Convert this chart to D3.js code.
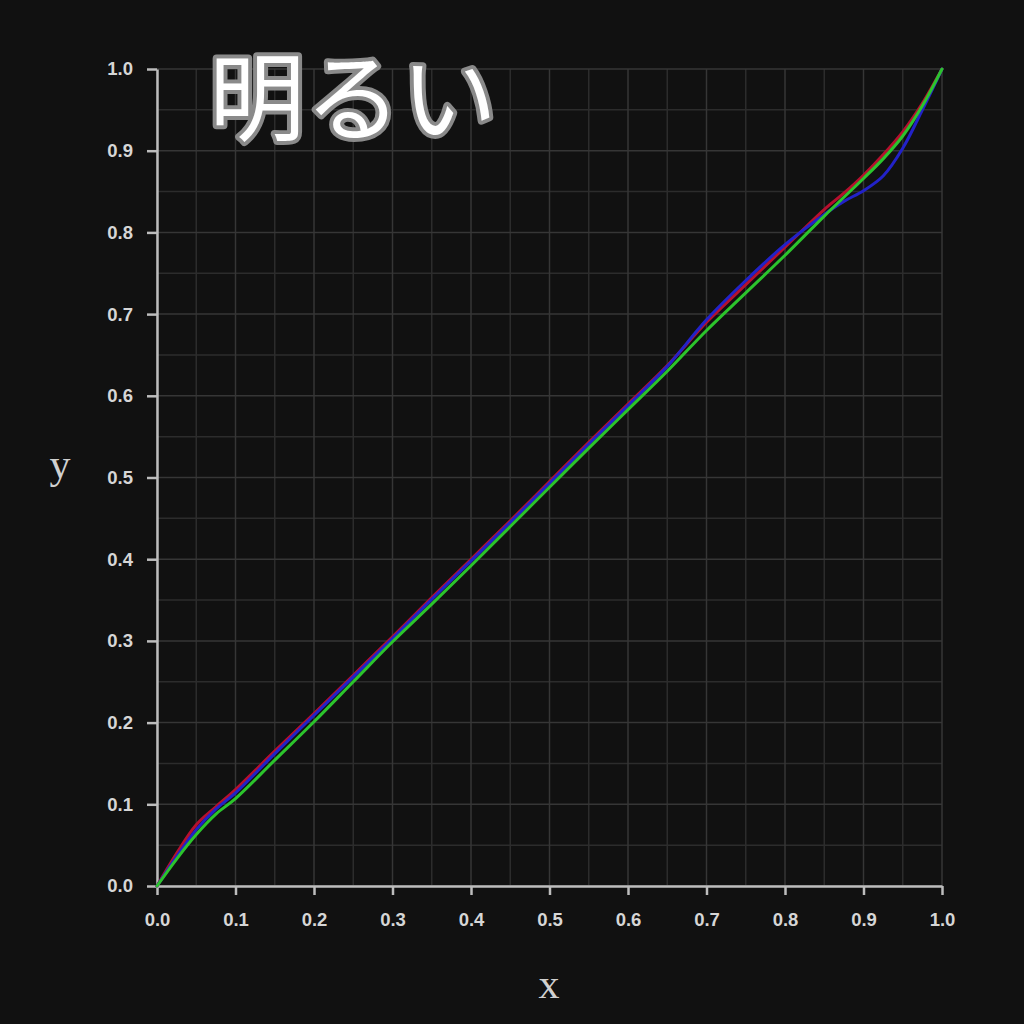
<!DOCTYPE html>
<html><head><meta charset="utf-8">
<script src="https://cdn.jsdelivr.net/npm/d3@7"></script>
<style>html,body{margin:0;padding:0;background:#111111;}svg{display:block;}</style>
</head><body>
<svg id="chart" width="1024" height="1024"></svg>
<script>
const titleText = "明るい";
const xLabel = "x";
const yLabel = "y";
const tickValues = [0,0.1,0.2,0.3,0.4,0.5,0.6,0.7,0.8,0.9,1.0];
const minorValues = [0.05,0.15,0.25,0.35,0.45,0.55,0.65,0.75,0.85,0.95];
const xs = [0,0.025,0.05,0.075,0.1,0.15,0.2,0.25,0.3,0.35,0.4,0.45,0.5,0.55,0.6,0.65,0.7,0.75,0.8,0.85,0.875,0.9,0.925,0.95,0.975,1.0];
const redY = [0,0.040,0.075,0.097,0.118,0.165,0.211,0.258,0.305,0.353,0.400,0.447,0.495,0.543,0.590,0.637,0.690,0.736,0.782,0.828,0.848,0.870,0.895,0.923,0.958,1.0];
const greenY = [0,0.033,0.063,0.088,0.107,0.154,0.201,0.250,0.299,0.345,0.392,0.440,0.488,0.536,0.583,0.630,0.680,0.726,0.772,0.820,0.843,0.866,0.890,0.918,0.955,1.0];
const blueY = [0,0.036,0.069,0.094,0.114,0.162,0.209,0.256,0.303,0.351,0.398,0.445,0.493,0.541,0.588,0.636,0.693,0.741,0.785,0.822,0.838,0.851,0.869,0.903,0.950,1.0];

const svg = d3.select("#chart");
svg.append("rect").attr("width",1024).attr("height",1024).attr("fill","#111111");
const x = d3.scaleLinear().domain([0,1]).range([157,942]);
const y = d3.scaleLinear().domain([0,1]).range([886,69]);

const grid = svg.append("g");
grid.selectAll(".mnx").data(minorValues).join("line")
  .attr("x1",d=>x(d)).attr("x2",d=>x(d)).attr("y1",y(0)).attr("y2",y(1))
  .attr("stroke","#2c2c2c").attr("stroke-width",1.5);
grid.selectAll(".mny").data(minorValues).join("line")
  .attr("y1",d=>y(d)).attr("y2",d=>y(d)).attr("x1",x(0)).attr("x2",x(1))
  .attr("stroke","#2c2c2c").attr("stroke-width",1.5);
grid.selectAll(".mjx").data(tickValues).join("line")
  .attr("x1",d=>x(d)).attr("x2",d=>x(d)).attr("y1",y(0)).attr("y2",y(1))
  .attr("stroke","#363636").attr("stroke-width",1.5);
grid.selectAll(".mjy").data(tickValues).join("line")
  .attr("y1",d=>y(d)).attr("y2",d=>y(d)).attr("x1",x(0)).attr("x2",x(1))
  .attr("stroke","#363636").attr("stroke-width",1.5);

const fmt = d3.format(".1f");
const xAxis = svg.append("g").attr("transform",`translate(0,${y(0)})`)
  .call(d3.axisBottom(x).tickValues(tickValues).tickFormat(fmt).tickSizeInner(9).tickSizeOuter(0).tickPadding(18));
const yAxis = svg.append("g").attr("transform",`translate(${x(0)},0)`)
  .call(d3.axisLeft(y).tickValues(tickValues).tickFormat(fmt).tickSizeInner(10).tickSizeOuter(0).tickPadding(14));
[xAxis,yAxis].forEach(a=>{
  a.select(".domain").attr("stroke","#bdbdbd").attr("stroke-width",2.5);
  a.selectAll(".tick line").attr("stroke","#bdbdbd").attr("stroke-width",2.5);
  a.selectAll(".tick text").attr("fill","#d6d6d6")
    .style("font-family","'Liberation Sans', Arial, sans-serif")
    .style("font-weight","bold").style("font-size","18.5px");
});

const line = d3.line().x((d,i)=>x(xs[i])).y(d=>y(d)).curve(d3.curveCatmullRom.alpha(0.5));
const series = [
  {vals: redY, color:"#b5102e"},
  {vals: blueY, color:"#2222c8"},
  {vals: greenY, color:"#2cc42c"}
];
svg.append("g").selectAll("path").data(series).join("path")
  .attr("d",d=>line(d.vals)).attr("fill","none")
  .attr("stroke",d=>d.color).attr("stroke-width",3)
  .attr("stroke-linejoin","round").attr("stroke-linecap","round");

svg.append("text").attr("x",549).attr("y",998).attr("text-anchor","middle")
  .attr("fill","#d0d0d0").style("font-family","'Liberation Serif','DejaVu Serif',serif")
  .style("font-size","42px").text(xLabel);
svg.append("text").attr("x",60).attr("y",478).attr("text-anchor","middle")
  .attr("fill","#d0d0d0").style("font-family","'Liberation Serif','DejaVu Serif',serif")
  .style("font-size","42px").text(yLabel);

svg.append("text").attr("x",209).attr("y",133)
  .attr("fill","#ffffff").attr("stroke","#8a8a8a").attr("stroke-width",8)
  .attr("stroke-linejoin","round").attr("paint-order","stroke")
  .style("font-family","'Noto Sans CJK JP','Noto Sans CJK SC',sans-serif")
  .style("font-weight","400").style("font-size","96px").text(titleText);
</script>
</body></html>
